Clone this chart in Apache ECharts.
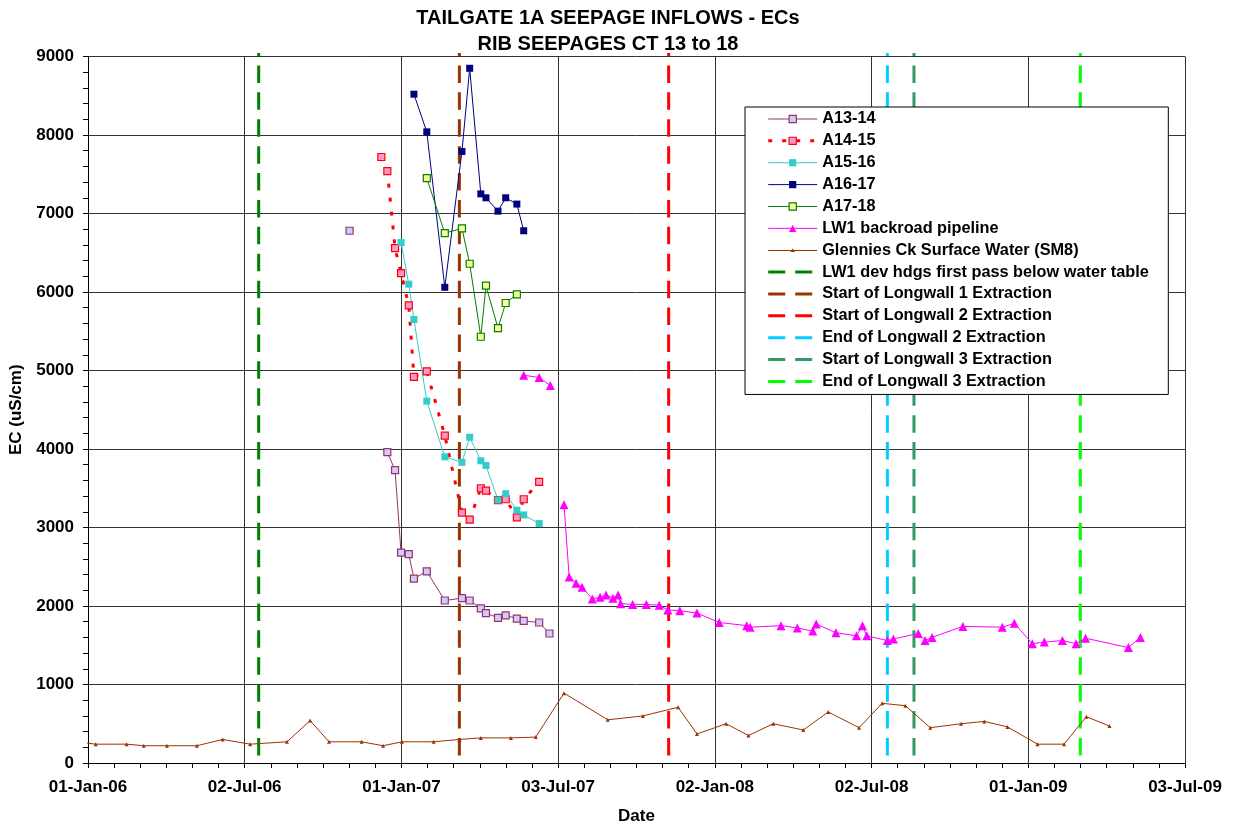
<!DOCTYPE html>
<html>
<head>
<meta charset="utf-8">
<script src="https://cdn.jsdelivr.net/npm/echarts@6/dist/echarts.min.js"></script>
<style>
html,body{margin:0;padding:0;background:#fff;}
#chart{width:1240px;height:826px;}
</style>
</head>
<body>
<div id="chart"></div>
<script>
// ---------------- DATA ----------------
const TITLE_LINES = ['TAILGATE 1A SEEPAGE INFLOWS - ECs', 'RIB SEEPAGES CT 13 to 18'];
const X_TICK_LABELS = ['01-Jan-06','02-Jul-06','01-Jan-07','03-Jul-07','02-Jan-08','02-Jul-08','01-Jan-09','03-Jul-09'];
const X_START = '2006-01-01';
const X_END = '2009-07-03';
const Y_MIN = 0, Y_MAX = 9000, Y_STEP = 1000;

const A1314_DATES = ['2006-11-02','2006-12-01','2006-12-16','2006-12-25','2007-01-01','2007-01-10','2007-01-16','2007-01-31','2007-02-21','2007-03-13','2007-03-22','2007-04-04','2007-04-10','2007-04-24','2007-05-03','2007-05-16','2007-05-24','2007-06-11','2007-06-23'];
const A1314_VALUES = [6780, null, 3960, 3730, 2680, 2660, 2350, 2440, 2070, 2100, 2070, 1970, 1910, 1850, 1880, 1840, 1810, 1790, 1650];

const A1415_DATES = ['2006-12-09','2006-12-16','2006-12-25','2007-01-01','2007-01-10','2007-01-16','2007-01-31','2007-02-21','2007-03-13','2007-03-22','2007-04-04','2007-04-10','2007-04-24','2007-05-03','2007-05-16','2007-05-24','2007-06-11'];
const A1415_VALUES = [7720, 7540, 6560, 6240, 5830, 4920, 4990, 4170, 3190, 3100, 3500, 3470, 3350, 3360, 3130, 3360, 3580];

const A1516_DATES = ['2007-01-01','2007-01-10','2007-01-16','2007-01-31','2007-02-21','2007-03-13','2007-03-22','2007-04-04','2007-04-10','2007-04-24','2007-05-03','2007-05-16','2007-05-24','2007-06-11'];
const A1516_VALUES = [6630, 6100, 5650, 4610, 3900, 3830, 4150, 3850, 3790, 3350, 3430, 3220, 3160, 3050];

const A1617_DATES = ['2007-01-16','2007-01-31','2007-02-21','2007-03-13','2007-03-22','2007-04-04','2007-04-10','2007-04-24','2007-05-03','2007-05-16','2007-05-24'];
const A1617_VALUES = [8520, 8040, 6060, 7790, 8850, 7250, 7200, 7030, 7200, 7120, 6780];

const A1718_DATES = ['2007-01-31','2007-02-21','2007-03-13','2007-03-22','2007-04-04','2007-04-10','2007-04-24','2007-05-03','2007-05-16'];
const A1718_VALUES = [7450, 6750, 6810, 6360, 5430, 6080, 5540, 5860, 5970];

const PIPE_DATES = ['2007-05-24','2007-06-11','2007-06-24','2007-07-02','2007-07-10','2007-07-16','2007-07-24','2007-07-31','2007-08-12','2007-08-21','2007-08-28','2007-09-05','2007-09-11','2007-09-14','2007-09-28','2007-10-14','2007-10-29','2007-11-08','2007-11-22','2007-12-12','2008-01-07','2008-02-08','2008-02-12','2008-03-19','2008-04-07','2008-04-25','2008-04-29','2008-05-22','2008-06-15','2008-06-22','2008-06-27','2008-07-21','2008-07-28','2008-08-26','2008-09-03','2008-09-11','2008-10-17','2008-12-02','2008-12-16','2009-01-06','2009-01-20','2009-02-10','2009-02-26','2009-03-09','2009-04-28','2009-05-12'];
const PIPE_VALUES = [4940, 4910, 4810, null, 3290, 2370, 2290, 2240, 2090, 2110, 2140, 2100, 2140, 2030, 2020, 2020, 2010, 1950, 1940, 1910, 1790, 1750, 1730, 1750, 1720, 1680, 1770, 1660, 1620, 1750, 1620, 1560, 1580, 1650, 1560, 1600, 1740, 1730, 1780, 1520, 1540, 1560, 1520, 1590, 1470, 1600];

const SM8_DATES = ['2005-12-15','2006-01-10','2006-02-15','2006-03-07','2006-04-03','2006-05-08','2006-06-07','2006-07-09','2006-08-21','2006-09-17','2006-10-09','2006-11-16','2006-12-11','2007-01-02','2007-02-08','2007-03-10','2007-04-04','2007-05-09','2007-06-07','2007-07-10','2007-08-30','2007-10-10','2007-11-20','2007-12-12','2008-01-15','2008-02-10','2008-03-10','2008-04-14','2008-05-13','2008-06-18','2008-07-15','2008-08-11','2008-09-09','2008-10-15','2008-11-11','2008-12-08','2009-01-12','2009-02-12','2009-03-10','2009-04-06'];
const SM8_VALUES = [275, 240, 240, 220, 220, 220, 300, 240, 270, 540, 270, 270, 220, 270, 270, 300, 320, 320, 330, 890, 550, 600, 710, 370, 500, 350, 500, 420, 650, 450, 760, 730, 450, 500, 530, 460, 240, 240, 590, 470];

const EVENT_NAMES = ['LW1 dev hdgs first pass below water table','Start of Longwall 1 Extraction','Start of Longwall 2 Extraction','End of Longwall 2 Extraction','Start of Longwall 3 Extraction','End of Longwall 3 Extraction'];
const EVENT_DATES = ['2006-07-19','2007-03-10','2007-11-09','2008-07-21','2008-08-21','2009-03-03'];
const EVENT_LINE_TOP = 9045;   // value where the event lines start (slightly above 9000)
const EVENT_LINE_BOTTOM = 0;

// ---------------- HELPERS ----------------
const ORIGIN = Date.parse(X_START);
function dayOf(s) { return (Date.parse(s) - ORIGIN) / 86400000; }
function pairs(dates, vals) { return dates.map((d, i) => [dayOf(d), vals[i] == null ? '-' : vals[i]]); }
const X_MAX = dayOf(X_END);
const X_STEP = X_MAX / (X_TICK_LABELS.length - 1);

const FONT = "'Liberation Sans', Arial, Helvetica, sans-serif";
const EVENT_COLORS = ['#008000', '#993300', '#FF0000', '#00CCFF', '#339966', '#00FF00'];

const DASH_ICON = 'path://M0,0H17V3H0Z M27,0H44V3H27Z M49,1.5L49,1.5';
const SM8_ICON = 'path://M0,3H49V4H0Z M22.2,5L24.5,1.4L26.8,5Z';

const chart = echarts.init(document.getElementById('chart'), null, {renderer: 'canvas'});

const series = [
  {
    name: 'A13-14', type: 'line', data: pairs(A1314_DATES, A1314_VALUES), z: 4,
    symbol: 'rect', symbolSize: 7,
    lineStyle: {color: '#993366', width: 1},
    itemStyle: {color: '#CCCCFF', borderColor: '#993366', borderWidth: 1.2}
  },
  {
    name: 'A14-15', type: 'line', data: pairs(A1415_DATES, A1415_VALUES), z: 4,
    symbol: 'rect', symbolSize: 7,
    lineStyle: {color: '#FF0000', width: 3, type: [4, 10]},
    itemStyle: {color: '#FF99CC', borderColor: '#FF0000', borderWidth: 1.2}
  },
  {
    name: 'A15-16', type: 'line', data: pairs(A1516_DATES, A1516_VALUES), z: 4,
    symbol: 'rect', symbolSize: 7,
    lineStyle: {color: '#33CCCC', width: 1},
    itemStyle: {color: '#33CCCC'}
  },
  {
    name: 'A16-17', type: 'line', data: pairs(A1617_DATES, A1617_VALUES), z: 4,
    symbol: 'rect', symbolSize: 7,
    lineStyle: {color: '#000080', width: 1},
    itemStyle: {color: '#000080'}
  },
  {
    name: 'A17-18', type: 'line', data: pairs(A1718_DATES, A1718_VALUES), z: 4,
    symbol: 'rect', symbolSize: 7,
    lineStyle: {color: '#008000', width: 1},
    itemStyle: {color: '#FFFF99', borderColor: '#008000', borderWidth: 1.2}
  },
  {
    name: 'LW1 backroad pipeline', type: 'line', data: pairs(PIPE_DATES, PIPE_VALUES), z: 4,
    symbol: 'triangle', symbolSize: 9,
    lineStyle: {color: '#FF00FF', width: 1},
    itemStyle: {color: '#FF00FF'}
  },
  {
    name: 'Glennies Ck Surface Water (SM8)', type: 'line', data: pairs(SM8_DATES, SM8_VALUES), z: 3,
    symbol: 'triangle', symbolSize: 4,
    lineStyle: {color: '#993300', width: 1},
    itemStyle: {color: '#993300'}
  }
];

EVENT_NAMES.forEach((name, i) => {
  const d = dayOf(EVENT_DATES[i]);
  series.push({
    name: name, type: 'line', z: 2, clip: false,
    data: [[d, EVENT_LINE_TOP], [d, EVENT_LINE_BOTTOM]],
    symbol: 'none',
    lineStyle: {color: EVENT_COLORS[i], width: 3, type: [17.5, 9.4], dashOffset: 14.4},
    itemStyle: {color: EVENT_COLORS[i]}
  });
});

const legendData = series.map(s => {
  if (s.name === 'Glennies Ck Surface Water (SM8)') {
    return {name: s.name, icon: SM8_ICON, itemStyle: {borderWidth: 0}};
  }
  if (EVENT_NAMES.indexOf(s.name) >= 0) {
    return {name: s.name, icon: DASH_ICON, itemStyle: {borderWidth: 0}};
  }
  return {name: s.name};
});

const option = {
  animation: false,
  backgroundColor: '#ffffff',
  title: {
    text: TITLE_LINES.join('\n'),
    left: 603, top: 0, textAlign: 'center',
    textStyle: {fontFamily: FONT, fontSize: 20, fontWeight: 'bold', color: '#000', lineHeight: 26}
  },
  grid: {left: 88, right: 55, top: 56.5, bottom: 63, containLabel: false, outerBoundsMode: 'none'},
  legend: {
    orient: 'vertical', left: 745, top: 107,
    padding: [4, 19.5, 5, 21.7],
    itemWidth: 49, itemHeight: 9, itemGap: 5.87,
    backgroundColor: '#fff', borderColor: '#000', borderWidth: 1,
    selectedMode: false,
    data: legendData,
    lineStyle: {width: 'inherit'},
    itemStyle: {borderWidth: 'inherit'},
    textStyle: {fontFamily: FONT, fontSize: 16.3, fontWeight: 'bold', color: '#000', lineHeight: 16}
  },
  xAxis: {
    type: 'value', min: 0, max: X_MAX, interval: X_STEP,
    name: 'Date', nameLocation: 'middle', nameGap: 45,
    nameTextStyle: {fontFamily: FONT, fontSize: 17, fontWeight: 'bold', color: '#000'},
    axisLine: {show: true, onZero: false, lineStyle: {color: '#000', width: 1}},
    axisTick: {show: true, inside: false, length: 5, lineStyle: {color: '#000'}},
    minorTick: {show: true, splitNumber: 6, length: 5, lineStyle: {color: '#000'}},
    splitLine: {show: true, lineStyle: {color: '#333', width: 1}},
    axisLabel: {
      margin: 16, fontFamily: FONT, fontSize: 17, fontWeight: 'bold', color: '#000',
      showMinLabel: true, showMaxLabel: true, hideOverlap: false,
      formatter: function (v) {
        const i = Math.round(v / X_STEP);
        return Math.abs(v - i * X_STEP) < 0.5 ? (X_TICK_LABELS[i] || '') : '';
      }
    }
  },
  yAxis: {
    type: 'value', min: Y_MIN, max: Y_MAX, interval: Y_STEP,
    name: 'EC (uS/cm)', nameLocation: 'middle', nameGap: 55, nameRotate: 90,
    nameTextStyle: {fontFamily: FONT, fontSize: 17, fontWeight: 'bold', color: '#000'},
    axisLine: {show: true, lineStyle: {color: '#000', width: 1}},
    axisTick: {show: true, inside: false, length: 5, lineStyle: {color: '#000'}},
    minorTick: {show: true, splitNumber: 5, length: 5, lineStyle: {color: '#000'}},
    splitLine: {show: true, lineStyle: {color: '#333', width: 1}},
    axisLabel: {
      margin: 14, fontFamily: FONT, fontSize: 17, fontWeight: 'bold', color: '#000',
      formatter: function (v) { return String(v); }
    }
  },
  series: series
};

chart.setOption(option);
</script>
</body>
</html>
